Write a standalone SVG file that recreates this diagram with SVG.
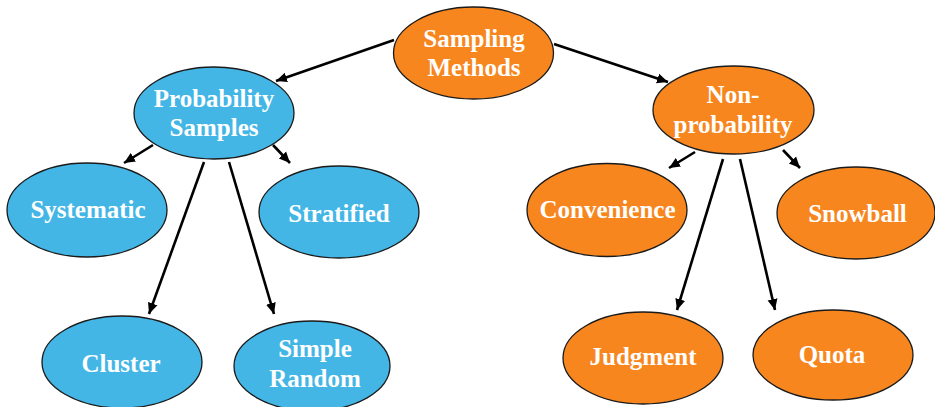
<svg xmlns="http://www.w3.org/2000/svg" width="935" height="407" viewBox="0 0 935 407">
  <style>
    .blue { fill: #43B6E6; stroke: #1a1a1a; stroke-width: 1.3; }
    .orange { fill: #F8861E; stroke: #1a1a1a; stroke-width: 1.3; }
    .label { font-family: "Liberation Serif", "Times New Roman", serif; font-weight: bold; font-size: 25px; fill: #ffffff; text-anchor: middle; }
    .edge { stroke: #000000; stroke-width: 2.6; fill: none; marker-end: url(#arrow); }
  </style>
  <defs>
    <marker id="arrow" markerUnits="userSpaceOnUse" markerWidth="12" markerHeight="12" viewBox="0 0 12 12" refX="11" refY="6" orient="auto">
      <path d="M0,1 L11,6 L0,11 Z" fill="#000000"/>
    </marker>
  </defs>
  <rect width="935" height="407" fill="#ffffff"/>

  <g id="connectors">
    <line class="edge" x1="394" y1="40" x2="276" y2="81"/>
    <line class="edge" x1="554" y1="44" x2="668" y2="82"/>
    <line class="edge" x1="153" y1="145" x2="124" y2="163"/>
    <line class="edge" x1="273" y1="145" x2="290" y2="163"/>
    <line class="edge" x1="204" y1="162" x2="149" y2="314"/>
    <line class="edge" x1="229" y1="162" x2="274" y2="314"/>
    <line class="edge" x1="695" y1="152" x2="669" y2="168"/>
    <line class="edge" x1="783" y1="150" x2="800" y2="168"/>
    <line class="edge" x1="723" y1="159" x2="677" y2="310"/>
    <line class="edge" x1="740" y1="159" x2="775" y2="310"/>
  </g>

  <g id="sampling-methods">
    <ellipse class="orange" cx="473.5" cy="53" rx="80" ry="46"/>
    <text class="label" x="474" y="47">Sampling</text>
    <text class="label" x="474" y="76">Methods</text>
  </g>

  <g id="probability-samples">
    <ellipse class="blue" cx="214" cy="113" rx="80" ry="46"/>
    <text class="label" x="214" y="107">Probability</text>
    <text class="label" x="214" y="136">Samples</text>
  </g>

  <g id="non-probability">
    <ellipse class="orange" cx="733.5" cy="110" rx="80.5" ry="44"/>
    <text class="label" x="733" y="103">Non-</text>
    <text class="label" x="733" y="133">probability</text>
  </g>

  <g id="systematic">
    <ellipse class="blue" cx="87" cy="210" rx="80" ry="47"/>
    <text class="label" x="88" y="218">Systematic</text>
  </g>

  <g id="stratified">
    <ellipse class="blue" cx="339" cy="212" rx="80" ry="46"/>
    <text class="label" x="339" y="222">Stratified</text>
  </g>

  <g id="cluster">
    <ellipse class="blue" cx="122" cy="362" rx="80" ry="46"/>
    <text class="label" x="121" y="372">Cluster</text>
  </g>

  <g id="simple-random">
    <ellipse class="blue" cx="312" cy="366" rx="78" ry="45"/>
    <text class="label" x="315" y="357">Simple</text>
    <text class="label" x="315" y="387">Random</text>
  </g>

  <g id="convenience">
    <ellipse class="orange" cx="607" cy="210" rx="80" ry="46.5"/>
    <text class="label" x="607.5" y="218">Convenience</text>
  </g>

  <g id="snowball">
    <ellipse class="orange" cx="856" cy="213" rx="79" ry="46"/>
    <text class="label" x="857.5" y="222">Snowball</text>
  </g>

  <g id="judgment">
    <ellipse class="orange" cx="643" cy="358" rx="80" ry="46"/>
    <text class="label" x="643" y="365">Judgment</text>
  </g>

  <g id="quota">
    <ellipse class="orange" cx="833" cy="355" rx="80" ry="45"/>
    <text class="label" x="832" y="363">Quota</text>
  </g>
</svg>
